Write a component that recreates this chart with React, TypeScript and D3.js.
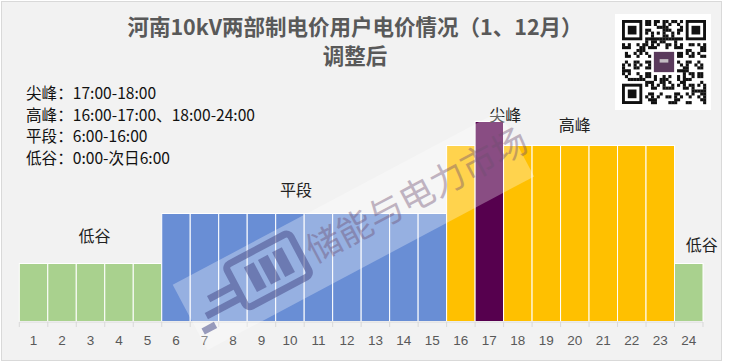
import React from "react";
import * as d3 from "d3";

// hours 1..24 and period of each hour
const hours = d3.range(1, 25).map(String);
const periods = [
  "低谷", "低谷", "低谷", "低谷", "低谷",
  "平段", "平段", "平段", "平段", "平段", "平段", "平段", "平段", "平段", "平段",
  "高峰", "尖峰", "高峰", "高峰", "高峰", "高峰", "高峰", "高峰",
  "低谷",
];
// relative price level per period
const periodNames = ["低谷", "平段", "高峰", "尖峰"];
const periodValues = [29, 54, 88, 100];
const periodColors = ["#A9D18E", "#698ED5", "#FFC000", "#56004E"];

// legend lines at top-left
const legendLines = [
  "尖峰：17:00-18:00",
  "高峰：16:00-17:00、18:00-24:00",
  "平段：6:00-16:00",
  "低谷：0:00-次日6:00",
];

// period labels drawn above bars: text + hour it sits over
const barLabels = ["低谷", "平段", "尖峰", "高峰", "低谷"];
const barLabelHours = ["3", "10", "17", "20", "24"];
const labelNudge = [
  [4, -22],
  [6, -18],
  [16, -1],
  [0, -15],
  [13, -13],
];

const W = 739;
const H = 363;
const CJK = "'Noto Sans CJK SC', 'Noto Sans', sans-serif";

const valueOf = (p: string) => periodValues[periodNames.indexOf(p)];
const colorOf = (p: string) => periodColors[periodNames.indexOf(p)];

function QrMark({ x, y, size }: { x: number; y: number; size: number }) {
  const n = 29;
  const m = size / n;
  const cells: JSX.Element[] = [];
  const inFinder = (r: number, c: number) =>
    (r < 8 && c < 8) || (r < 8 && c >= n - 8) || (r >= n - 8 && c < 8);
  for (let r = 0; r < n; r++) {
    for (let c = 0; c < n; c++) {
      if (inFinder(r, c)) continue;
      if (r >= 10 && r <= 18 && c >= 10 && c <= 18) continue;
      const h = (r * 37 + c * 53 + r * c * 11 + ((r ^ c) * 7)) % 9;
      if (h < 4)
        cells.push(
          <rect key={`${r}-${c}`} x={x + c * m} y={y + r * m} width={m + 0.2} height={m + 0.2} fill="#111" />
        );
    }
  }
  const finder = (fx: number, fy: number, k: string) => (
    <g key={k}>
      <rect x={fx} y={fy} width={7 * m} height={7 * m} fill="#111" />
      <rect x={fx + m} y={fy + m} width={5 * m} height={5 * m} fill="#fff" />
      <rect x={fx + 2 * m} y={fy + 2 * m} width={3 * m} height={3 * m} fill="#111" />
    </g>
  );
  return (
    <g>
      <rect x={x - 7} y={y - 6} width={size + 12} height={size + 12} fill="#fff" />
      {cells}
      {finder(x, y, "a")}
      {finder(x + (n - 7) * m, y, "b")}
      {finder(x, y + (n - 7) * m, "c")}
      <rect x={x + 10.5 * m} y={y + 10.5 * m} width={8 * m} height={8 * m} fill="#fff" />
      <rect x={x + 11 * m} y={y + 11 * m} width={7 * m} height={7 * m} fill="#5A3A5C" />
      <rect x={x + 13 * m} y={y + 13.5 * m} width={3 * m} height={1.2 * m} fill="#ddd" opacity={0.8} />
    </g>
  );
}

export default function App() {
  const x = d3.scaleBand<string>().domain(hours).range([19.3, 703]).padding(0);
  const y = d3.scaleLinear().domain([0, 100]).range([321.5, 121.5]);
  const bw = x.bandwidth();

  return (
    <svg
      width={W}
      height={H}
      style={{ position: "absolute", left: 0, top: 0, background: "#fff" }}
      fontFamily={CJK}
    >
      <rect x={1.5} y={1.5} width={720} height={359} fill="#F2F2F2" stroke="#D9D9D9" />

      {/* title */}
      <text x={355} y={35} textAnchor="middle" fontSize={21.5} fontWeight="bold" fill="#595959">
        河南10kV两部制电价用户电价情况（1、12月）
      </text>
      <text x={355} y={64} textAnchor="middle" fontSize={21.5} fontWeight="bold" fill="#595959">
        调整后
      </text>

      <QrMark x={622} y={20} size={84} />

      {/* legend */}
      {legendLines.map((t, i) => (
        <text key={i} x={26} y={99 + i * 21.7} fontSize={15.6} fill="#111">
          {t}
        </text>
      ))}

      {/* bars */}
      {hours.map((h, i) => (
        <rect
          key={h}
          x={x(h)}
          y={y(valueOf(periods[i]))}
          width={bw}
          height={y(0) - y(valueOf(periods[i]))}
          fill={colorOf(periods[i])}
          stroke="#fff"
          strokeWidth={1}
        />
      ))}

      {/* x axis */}
      <line x1={x.range()[0]} x2={x.range()[1]} y1={322} y2={322} stroke="#D9D9D9" />
      {hours.concat(["end"]).map((h, i) => {
        const tx = x.range()[0] + i * bw;
        return <line key={h} x1={tx} x2={tx} y1={322} y2={327} stroke="#D9D9D9" />;
      })}
      {hours.map((h) => (
        <text
          key={h}
          x={(x(h) ?? 0) + bw / 2}
          y={345}
          textAnchor="middle"
          fontSize={13.5}
          fontFamily="'Liberation Sans', 'Noto Sans', sans-serif"
          fill="#595959"
        >
          {h}
        </text>
      ))}

      {/* period labels */}
      {barLabels.map((t, i) => {
        const h = barLabelHours[i];
        const p = periods[hours.indexOf(h)];
        return (
          <text
            key={i}
            x={(x(h) ?? 0) + bw / 2 + labelNudge[i][0]}
            y={y(valueOf(p)) + labelNudge[i][1]}
            textAnchor="middle"
            fontSize={16}
            fill="#222"
          >
            {t}
          </text>
        );
      })}

      {/* watermark */}
      <g transform="translate(352,228) rotate(-28)" pointerEvents="none">
        <rect x={-185} y={-34} width={370} height={74} fill="#fff" opacity={0.3} />
        <g fill="#4A4F8C" opacity={0.55}>
          <rect x={-130} y={-26} width={72} height={48} rx={5} fill="none" stroke="#4A4F8C" strokeWidth={7} />
          <rect x={-114} y={-16} width={11} height={28} />
          <rect x={-98} y={-16} width={11} height={28} />
          <rect x={-82} y={-16} width={11} height={28} />
          <rect x={-170} y={6} width={38} height={7} />
          <rect x={-160} y={-8} width={28} height={7} />
          <rect x={-180} y={18} width={14} height={7} />
        </g>
        <text x={-50} y={14} fontSize={35} fill="#6E4E70" opacity={0.4}>
          储能与电力市场
        </text>
      </g>
    </svg>
  );
}
